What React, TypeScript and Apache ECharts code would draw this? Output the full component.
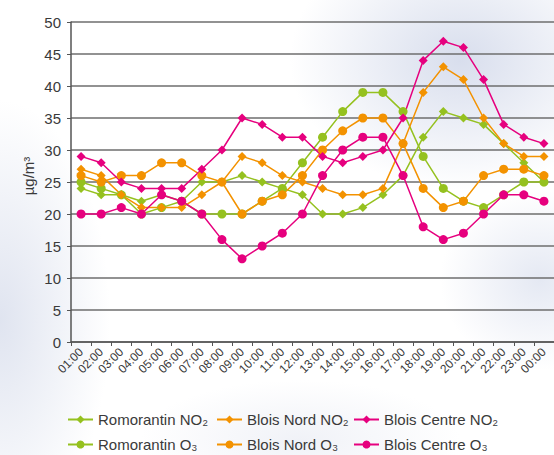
import React, { useEffect, useRef } from "react";
import * as echarts from "echarts";

const hours = [
  "01:00", "02:00", "03:00", "04:00", "05:00", "06:00", "07:00", "08:00",
  "09:00", "10:00", "11:00", "12:00", "13:00", "14:00", "15:00", "16:00",
  "17:00", "18:00", "19:00", "20:00", "21:00", "22:00", "23:00", "00:00",
];
const yTicks = { min: 0, max: 50, interval: 5 };

const romorantinNO2 = [24, 23, 23, 22, 23, 22, 25, 25, 26, 25, 24, 23, 20, 20, 21, 23, 26, 32, 36, 35, 34, 31, 28, 25];
const romorantinO3 = [25, 24, 23, 20, 21, 22, 20, 20, 20, 22, 24, 28, 32, 36, 39, 39, 36, 29, 24, 22, 21, 23, 25, 25];
const bloisNordNO2 = [27, 26, 23, 21, 21, 21, 23, 25, 29, 28, 26, 25, 24, 23, 23, 24, 31, 39, 43, 41, 35, 31, 29, 29];
const bloisNordO3 = [26, 25, 26, 26, 28, 28, 26, 25, 20, 22, 23, 26, 30, 33, 35, 35, 31, 24, 21, 22, 26, 27, 27, 26];
const bloisCentreNO2 = [29, 28, 25, 24, 24, 24, 27, 30, 35, 34, 32, 32, 29, 28, 29, 30, 35, 44, 47, 46, 41, 34, 32, 31];
const bloisCentreO3 = [20, 20, 21, 20, 23, 22, 20, 16, 13, 15, 17, 20, 26, 30, 32, 32, 26, 18, 16, 17, 20, 23, 23, 22];

const names = [
  "Romorantin NO₂", "Blois Nord NO₂", "Blois Centre NO₂",
  "Romorantin O₃", "Blois Nord O₃", "Blois Centre O₃",
];

const GREEN = "#95c11f";
const ORANGE = "#f39200";
const MAGENTA = "#e6007e";
const TEXT = "#3a3a3a";
const FONT = "'Liberation Sans', Arial, sans-serif";

export default function App() {
  const ref = useRef<HTMLDivElement>(null);

  useEffect(() => {
    document.body.style.margin = "0";
    if (!ref.current) return;
    const chart = echarts.init(ref.current, undefined, { renderer: "svg" });

    const mk = (name: string, data: number[], color: string, symbol: string, size: number) => ({
      name,
      type: "line",
      data,
      symbol,
      symbolSize: size,
      showAllSymbol: true,
      lineStyle: { color, width: 1.5 },
      itemStyle: { color },
    });

    const legendPos = [
      [67, 412], [216, 412], [353, 412],
      [67, 437], [216, 437], [353, 437],
    ];

    chart.setOption({
      animation: false,
      grid: { left: 71, top: 22, width: 484, height: 320, containLabel: false },
      xAxis: {
        type: "category",
        data: hours,
        boundaryGap: true,
        axisLine: { lineStyle: { color: "#555", width: 1.5 } },
        axisTick: { show: true, length: 4, alignWithLabel: false, lineStyle: { color: "#555" } },
        axisLabel: {
          interval: 0,
          rotate: 45,
          fontSize: 12,
          color: TEXT,
          fontFamily: FONT,
          margin: 8,
        },
        splitLine: { show: false },
      },
      yAxis: {
        type: "value",
        min: yTicks.min,
        max: yTicks.max,
        interval: yTicks.interval,
        axisLine: { show: true, lineStyle: { color: "#555", width: 1.5 } },
        axisTick: { show: true, length: 4, lineStyle: { color: "#555" } },
        axisLabel: { fontSize: 15, color: TEXT, fontFamily: FONT, margin: 10 },
        splitLine: { show: true, lineStyle: { color: "#6e6e6e", width: 1.5 } },
      },
      legend: names.map((n, i) => ({
        data: [n],
        left: legendPos[i][0],
        top: legendPos[i][1],
        padding: 0,
        itemWidth: 25,
        itemHeight: 10,
        textStyle: { fontSize: 15, color: TEXT, fontFamily: FONT },
      })),
      graphic: [
        {
          type: "text",
          x: 28,
          y: 176,
          rotation: Math.PI / 2,
          style: {
            text: "µg/m³",
            fontSize: 15,
            fontFamily: FONT,
            fill: TEXT,
            align: "center",
            verticalAlign: "middle",
          },
        },
      ],
      series: [
        mk(names[0], romorantinNO2, GREEN, "diamond", 9),
        mk(names[3], romorantinO3, GREEN, "circle", 9),
        mk(names[1], bloisNordNO2, ORANGE, "diamond", 9),
        mk(names[4], bloisNordO3, ORANGE, "circle", 9),
        mk(names[2], bloisCentreNO2, MAGENTA, "diamond", 9),
        mk(names[5], bloisCentreO3, MAGENTA, "circle", 9),
      ],
    });

    return () => chart.dispose();
  }, []);

  return (
    <div
      ref={ref}
      style={{
        width: 554,
        height: 455,
        background:
          "radial-gradient(ellipse 170px 130px at 460px 60px, rgba(214,220,236,0.95), rgba(255,255,255,0) 100%)," +
          "radial-gradient(ellipse 110px 220px at 0px 320px, rgba(220,225,238,0.9), rgba(255,255,255,0) 100%)," +
          "radial-gradient(ellipse 100px 90px at 540px 280px, rgba(222,227,240,0.8), rgba(255,255,255,0) 100%)," +
          "radial-gradient(ellipse 160px 60px at 300px 440px, rgba(230,233,242,0.6), rgba(255,255,255,0) 100%)," +
          "#ffffff",
      }}
    />
  );
}
